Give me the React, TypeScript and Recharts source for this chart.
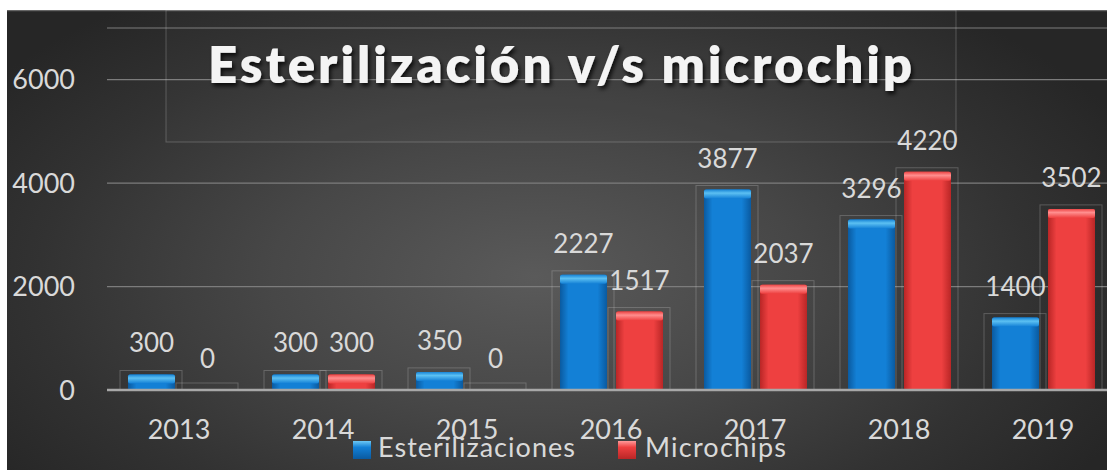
import React from 'react';
import { BarChart, Bar, XAxis, YAxis, CartesianGrid, LabelList } from 'recharts';

const categories = ['2013', '2014', '2015', '2016', '2017', '2018', '2019'];
const esterilizaciones = [300, 300, 350, 2227, 3877, 3296, 1400];
const microchips = [0, 300, 0, 1517, 2037, 4220, 3502];
const yTicks = [0, 2000, 4000, 6000];
const seriesNames = ['Esterilizaciones', 'Microchips'];
const titleText = 'Esterilización v/s microchip';

const data = categories.map((c, i) => ({
  year: c,
  est: esterilizaciones[i],
  mic: microchips[i],
}));

const FONT = 'Lato, "Open Sans", sans-serif';
const TEXT = '#d9d9d9';

const palettes: Record<string, { edge: string; mid: string; cap1: string; cap2: string }> = {
  blue: { edge: '#0a5aa0', mid: '#1380d6', cap1: '#5cc0f2', cap2: '#1784d6' },
  red: { edge: '#b92626', mid: '#ee4040', cap1: '#ff8e8e', cap2: '#ec4444' },
};

const makeShape = (key: string) => (props: any) => {
  const { x, y, width, height } = props;
  const p = palettes[key];
  const h = Math.max(0, height || 0);
  const boxTop = h > 0 ? y - 4 : y - 7;
  const boxH = h > 0 ? h + 4 : 7;
  const capH = Math.min(9, h);
  return (
    <g>
      <defs>
        <linearGradient id={`body-${key}`} x1="0" y1="0" x2="1" y2="0">
          <stop offset="0%" stopColor={p.edge} />
          <stop offset="18%" stopColor={p.mid} />
          <stop offset="80%" stopColor={p.mid} />
          <stop offset="100%" stopColor={p.edge} />
        </linearGradient>
        <linearGradient id={`cap-${key}`} x1="0" y1="0" x2="0" y2="1">
          <stop offset="0%" stopColor={p.cap2} />
          <stop offset="40%" stopColor={p.cap1} />
          <stop offset="100%" stopColor={p.mid} />
        </linearGradient>
      </defs>
      <rect
        x={x - 8}
        y={boxTop}
        width={width + 15}
        height={boxH}
        fill="none"
        stroke="rgba(200,200,200,0.28)"
        strokeWidth={1}
      />
      {h > 0 && (
        <>
          <rect x={x} y={y} width={width} height={h} fill={`url(#body-${key})`} rx={2} />
          <rect x={x} y={y} width={width} height={capH} fill={`url(#cap-${key})`} rx={2} />
        </>
      )}
    </g>
  );
};

const blueShape = makeShape('blue');
const redShape = makeShape('red');

export default function App() {
  return (
    <div
      style={{
        position: 'absolute',
        left: 7,
        top: 10,
        width: 1100,
        height: 460,
        overflow: 'hidden',
        background:
          'radial-gradient(ellipse 60% 75% at 48% 58%, #5a5a5a 0%, #474747 40%, #323232 75%, #262626 100%)',
      }}
    >
      <BarChart
        width={1108}
        height={460}
        data={data}
        margin={{ top: 18, right: 0, bottom: 0, left: 0 }}
        barSize={47}
        barGap={9}
      >
        <CartesianGrid horizontal vertical={false} stroke="#7c7c7c" strokeWidth={1.2} />
        <XAxis
          dataKey="year"
          height={80}
          tickLine={false}
          tickSize={0}
          tickMargin={30}
          axisLine={{ stroke: '#a8a8a8', strokeWidth: 2.5 }}
          tick={{ fill: TEXT, fontSize: 27, fontFamily: FONT }}
        />
        <YAxis
          width={100}
          domain={[0, 7000]}
          ticks={yTicks}
          interval={0}
          axisLine={false}
          tickLine={false}
          tickSize={0}
          tickMargin={32}
          tick={{ fill: TEXT, fontSize: 27, fontFamily: FONT }}
        />
        <Bar dataKey="est" name={seriesNames[0]} shape={blueShape} isAnimationActive={false}>
          <LabelList dataKey="est" position="top" offset={22} fill={TEXT} fontSize={26} fontFamily={FONT} />
        </Bar>
        <Bar dataKey="mic" name={seriesNames[1]} shape={redShape} isAnimationActive={false}>
          <LabelList dataKey="mic" position="top" offset={22} fill={TEXT} fontSize={26} fontFamily={FONT} />
        </Bar>
      </BarChart>
      <svg
        width={1100}
        height={460}
        style={{ position: 'absolute', left: 0, top: 0, pointerEvents: 'none' }}
      >
        <defs>
          <filter id="tshadow" x="-10%" y="-30%" width="120%" height="160%">
            <feDropShadow dx="2" dy="3" stdDeviation="2" floodColor="#000" floodOpacity="0.8" />
          </filter>
          <linearGradient id="lg-blue" x1="0" y1="0" x2="0" y2="1">
            <stop offset="0%" stopColor="#6cc8f5" />
            <stop offset="35%" stopColor="#1380d6" />
            <stop offset="100%" stopColor="#0a5aa0" />
          </linearGradient>
          <linearGradient id="lg-red" x1="0" y1="0" x2="0" y2="1">
            <stop offset="0%" stopColor="#ff9a9a" />
            <stop offset="35%" stopColor="#ee4040" />
            <stop offset="100%" stopColor="#b92626" />
          </linearGradient>
        </defs>
        <line x1={0} y1={0.5} x2={1100} y2={0.5} stroke="#666" strokeWidth={1.5} />
        <rect x={159} y={0} width={790} height={132} fill="rgba(255,255,255,0.015)" stroke="rgba(200,200,200,0.28)" strokeWidth={1} />
        <text
          x={201}
          y={73}
          fill="#f4f4f4"
          fontFamily={FONT}
          fontWeight={800}
          fontSize={51}
          textLength={704}
          lengthAdjust="spacing"
          filter="url(#tshadow)"
        >
          {titleText}
        </text>
        <rect x={346} y={431} width={18} height={18} fill="url(#lg-blue)" />
        <text x={371} y={447} fill={TEXT} fontFamily={FONT} fontSize={27} textLength={197} lengthAdjust="spacing">
          {seriesNames[0]}
        </text>
        <rect x={611} y={431} width={18} height={18} fill="url(#lg-red)" />
        <text x={638} y={447} fill={TEXT} fontFamily={FONT} fontSize={27} textLength={141} lengthAdjust="spacing">
          {seriesNames[1]}
        </text>
      </svg>
    </div>
  );
}
